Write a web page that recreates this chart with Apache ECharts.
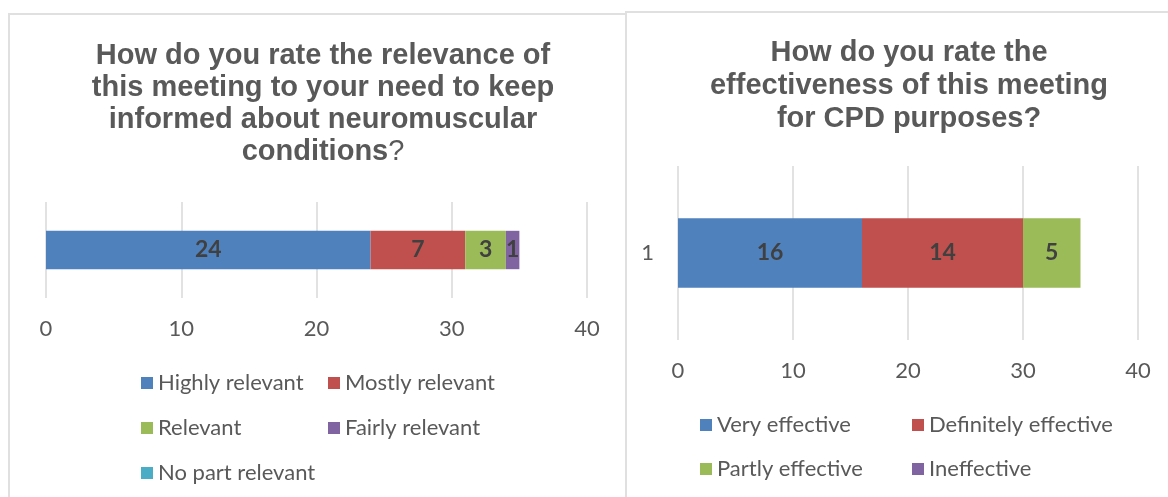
<!DOCTYPE html>
<html>
<head>
<meta charset="utf-8">
<script src="https://cdn.jsdelivr.net/npm/echarts@6/dist/echarts.min.js"></script>
<style>
html,body{margin:0;padding:0;background:#fff;width:1168px;height:497px;overflow:hidden;}
#p1{position:absolute;left:8px;top:13px;width:800px;height:600px;border:2px solid #e0e0e0;background:#fff;}
#p2{position:absolute;left:625px;top:11px;width:700px;height:600px;border:2px solid #e0e0e0;background:#fff;}
#chart{position:absolute;left:0;top:0;width:1168px;height:497px;}
</style>
</head>
<body>
<div id="p1"></div>
<div id="p2"></div>
<div id="chart"></div>
<script>
const categories = ['1'];
const leftSeriesNames = ['Highly relevant','Mostly relevant','Relevant','Fairly relevant','No part relevant'];
const leftValues = [24, 7, 3, 1, 0];
const rightSeriesNames = ['Very effective','Definitely effective','Partly effective','Ineffective'];
const rightValues = [16, 14, 5, 0];
const axisTicks = [0, 10, 20, 30, 40];
const colors = ['#4F81BD','#C0504D','#9BBB59','#8064A2','#4BACC6'];

const FONT = 'Lato';
const TXT = '#595959';

const chart = echarts.init(document.getElementById('chart'));

function xAxis(gridIndex){
  return {
    type:'value', gridIndex, min:axisTicks[0], max:axisTicks[axisTicks.length-1], interval:10,
    axisLine:{show:false}, axisTick:{show:false},
    splitLine:{show:true, lineStyle:{color:'#d9d9d9', width:1.5}},
    axisLabel:{color:TXT, fontFamily:FONT, fontSize:22, margin:20}
  };
}

const series = [];
leftSeriesNames.forEach((n,i)=>{
  series.push({
    name:n, type:'bar', stack:'L', xAxisIndex:0, yAxisIndex:0, barWidth:'40%',
    itemStyle:{color:colors[i]},
    label:{show:true, position:'inside', color:'#404040', fontFamily:FONT, fontWeight:'bold', fontSize:23,
      formatter:p=>p.value? String(p.value):''},
    data:[leftValues[i]]
  });
});
rightSeriesNames.forEach((n,i)=>{
  series.push({
    name:n, type:'bar', stack:'R', xAxisIndex:1, yAxisIndex:1, barWidth:'40%',
    itemStyle:{color:colors[i]},
    label:{show:true, position:'inside', color:'#404040', fontFamily:FONT, fontWeight:'bold', fontSize:23,
      formatter:p=>p.value? String(p.value):''},
    data:[rightValues[i]]
  });
});

function legendItem(name, left, cy){
  return {
    data:[name], left, top:cy-12, orient:'horizontal', icon:'rect', itemWidth:12, itemHeight:12,
    textStyle:{color:TXT, fontFamily:FONT, fontSize:22, lineHeight:24}, padding:0, selectedMode:false
  };
}

const titleRich = {
  b:{fontFamily:'Liberation Sans', fontWeight:'bold', fontSize:29, color:TXT, lineHeight:32},
  n:{fontFamily:'Liberation Sans', fontWeight:'normal', fontSize:29, color:TXT, lineHeight:32}
};

chart.setOption({
  animation:false,
  title:[
    {text:'{b|How do you rate the relevance of}\n{b|this meeting to your need to keep}\n{b|informed about neuromuscular}\n{b|conditions}{n|?}',
     left:318, top:35, textAlign:'center', textStyle:{rich:titleRich, fontSize:29, lineHeight:32}},
    {text:'{b|How do you rate the}\n{b|effectiveness of this meeting}\n{b|for CPD purposes?}',
     left:904, top:31, textAlign:'center', textStyle:{rich:{b:Object.assign({},titleRich.b,{lineHeight:33})}, fontSize:29, lineHeight:33}}
  ],
  legend:[
    legendItem('Highly relevant',141,383),
    legendItem('Mostly relevant',328,383),
    legendItem('Relevant',141,428),
    legendItem('Fairly relevant',328,428),
    legendItem('No part relevant',141,473),
    legendItem('Very effective',700,425),
    legendItem('Definitely effective',912,425),
    legendItem('Partly effective',700,469),
    legendItem('Ineffective',912,469)
  ],
  grid:[
    {left:46, right:1168-587, top:202, height:96, containLabel:false},
    {left:678, right:1168-1138, top:166, height:174, containLabel:false}
  ],
  xAxis:[xAxis(0), xAxis(1)],
  yAxis:[
    {type:'category', gridIndex:0, data:categories, axisLine:{show:false}, axisTick:{show:false}, axisLabel:{show:false}},
    {type:'category', gridIndex:1, data:categories, axisLine:{show:false}, axisTick:{show:false},
     axisLabel:{color:TXT, fontFamily:FONT, fontSize:22, margin:24}}
  ],
  series
});
</script>
</body>
</html>
